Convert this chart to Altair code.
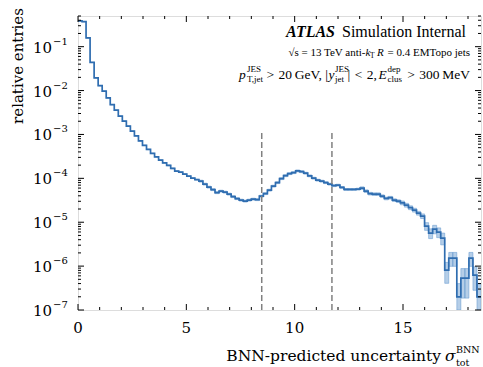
import altair as alt
import pandas as pd
import numpy as np

# ---------------- data ----------------
X_MAX = 18.6
N_BINS = 100
bin_values = [
    0.387, 0.371, 0.158, 0.0437, 0.0195, 0.0129, 0.00969, 0.00678, 0.00477, 0.00358,
    0.00261, 0.00201, 0.00155, 0.00119, 0.000929, 0.000714, 0.000565, 0.000455, 0.000369, 0.000309,
    0.000260, 0.000225, 0.000197, 0.000168, 0.000146, 0.000138, 0.000125, 0.000112, 0.000101, 9.33e-5,
    8.63e-5, 7.38e-5, 6.31e-5, 5.53e-5, 4.72e-5, 5.11e-5, 4.85e-5, 4.37e-5, 3.83e-5, 3.45e-5,
    3.19e-5, 3.03e-5, 3.19e-5, 3.36e-5, 3.27e-5, 3.93e-5, 4.48e-5, 5.38e-5, 6.64e-5, 7.98e-5,
    9.84e-5, 1.15e-4, 1.28e-4, 1.35e-4, 1.48e-4, 1.42e-4, 1.31e-4, 1.14e-4, 1.01e-4, 9.10e-5,
    8.63e-5, 7.98e-5, 7.38e-5, 6.82e-5, 7.00e-5, 6.21e-5, 5.58e-5, 5.58e-5, 5.58e-5, 5.68e-5,
    5.98e-5, 5.11e-5, 4.48e-5, 4.37e-5, 4.37e-5, 3.93e-5, 3.48e-5, 3.63e-5, 3.19e-5, 3.03e-5,
    2.77e-5, 2.45e-5, 2.15e-5, 1.89e-5, 1.61e-5, 1.38e-5, 8.15e-6, 5.65e-6, 6.97e-6, 5.94e-6,
    4.35e-6, 8.11e-7, 1.52e-6, 1.52e-6, 2.0e-7, 5.33e-7, 5.33e-7, 1.52e-6, 6.24e-7, 2.0e-7,
]
rel_err = [
    0.005, 0.005, 0.005, 0.005, 0.005, 0.005, 0.005, 0.005, 0.005, 0.005,
    0.01, 0.01, 0.01, 0.01, 0.01, 0.01, 0.01, 0.01, 0.01, 0.01,
    0.02, 0.02, 0.02, 0.02, 0.02, 0.02, 0.02, 0.02, 0.02, 0.02,
    0.05, 0.05, 0.05, 0.05, 0.05, 0.05, 0.05, 0.05, 0.05, 0.05,
    0.05, 0.05, 0.05, 0.05, 0.05, 0.05, 0.05, 0.05, 0.05, 0.05,
    0.05, 0.05, 0.05, 0.05, 0.05, 0.05, 0.05, 0.05, 0.05, 0.05,
    0.05, 0.05, 0.05, 0.05, 0.05, 0.05, 0.05, 0.05, 0.05, 0.05,
    0.07, 0.07, 0.07, 0.07, 0.07, 0.07, 0.07, 0.07, 0.07, 0.07,
    0.1, 0.1, 0.1, 0.1, 0.1, 0.12, 0.2, 0.25, 0.22, 0.25,
    0.3, 0.5, 0.35, 0.35, 1.0, 0.65, 0.65, 0.35, 0.55, 1.0,
]
dashed_x = [8.48, 11.72]
dashed_top = 1.2e-3
x_major = [0, 5, 10, 15]
x_minor = [1, 2, 3, 4, 6, 7, 8, 9, 11, 12, 13, 14, 16, 17, 18]
y_exponents = [-7, -6, -5, -4, -3, -2, -1]
y_minor_mult = [2, 3, 4, 5, 6, 7, 8, 9]
Y_MIN, Y_MAX = 1e-7, 0.5

# ---------------- style ----------------
W, H = 403, 294
SERIF = "DejaVu Serif"
TXT = "Liberation Serif"
LINE = "#2f6db0"
BAND = "#5b93cc"

edges = np.linspace(0, X_MAX, N_BINS + 1)
vals = np.array(bin_values)
errs = np.array(rel_err)
band_df = pd.DataFrame({
    "x0": edges[:-1], "x1": edges[1:],
    "lo": np.maximum(vals * (1 - errs), Y_MIN),
    "hi": vals * (1 + errs),
})
line_df = pd.DataFrame({"x": list(edges[:-1]) + [edges[-1]],
                        "y": list(vals) + [vals[-1]]})

xs = alt.Scale(domain=[0, X_MAX], nice=False, zero=False)
ys = alt.Scale(type="log", domain=[Y_MIN, Y_MAX], nice=False)

def X(f):
    return alt.X(f, type="quantitative", scale=xs, axis=None)

def Y(f):
    return alt.Y(f, type="quantitative", scale=ys, axis=None)

band = alt.Chart(band_df).mark_rect(
    fill=BAND, fillOpacity=0.45, stroke=BAND, strokeOpacity=0.7, strokeWidth=0.7, clip=True
).encode(x=X("x0"), x2="x1", y=Y("lo"), y2="hi")

hist = alt.Chart(line_df).mark_line(
    interpolate="step-after", color=LINE, strokeWidth=1.7, clip=True
).encode(x=X("x"), y=Y("y"))

dash_df = pd.DataFrame({"x": dashed_x, "y0": [Y_MIN] * len(dashed_x), "y1": [dashed_top] * len(dashed_x)})
dashes = alt.Chart(dash_df).mark_rule(
    color="#808080", strokeWidth=1.5, strokeDash=[6, 3]
).encode(x=X("x"), y=Y("y0"), y2="y1")

# ticks (inward, on all four sides)
def xticks(vals_, length):
    d = pd.DataFrame({"x": vals_})
    b = alt.Chart(d).mark_rule(color="black", strokeWidth=1).encode(
        x=X("x"), y=alt.value(H), y2=alt.value(H - length))
    t = alt.Chart(d).mark_rule(color="black", strokeWidth=1).encode(
        x=X("x"), y=alt.value(0), y2=alt.value(length))
    return b + t

def yticks(vals_, length):
    d = pd.DataFrame({"y": vals_})
    l = alt.Chart(d).mark_rule(color="black", strokeWidth=1).encode(
        y=Y("y"), x=alt.value(0), x2=alt.value(length))
    r = alt.Chart(d).mark_rule(color="black", strokeWidth=1).encode(
        y=Y("y"), x=alt.value(W), x2=alt.value(W - length))
    return l + r

y_major_vals = [10.0 ** e for e in y_exponents]
y_minor_vals = [m * 10.0 ** e for e in y_exponents for m in y_minor_mult if m * 10.0 ** e <= Y_MAX]

ticks = xticks(x_major, 6) + xticks(x_minor, 3) + yticks(y_major_vals, 6) + yticks(y_minor_vals, 3)

# tick labels
xl_df = pd.DataFrame({"x": x_major, "t": [str(v) for v in x_major]})
xlabels = alt.Chart(xl_df).mark_text(font=SERIF, fontSize=15, color="black", baseline="middle").encode(
    x=X("x"), y=alt.value(H + 18), text="t:N")

yl_df = pd.DataFrame({"y": y_major_vals, "b": ["10"] * len(y_exponents),
                      "s": ["\u2212" + str(-e) for e in y_exponents]})
ylab_base = alt.Chart(yl_df).mark_text(font=SERIF, fontSize=15, color="black", align="right",
                                       baseline="middle", dy=1).encode(
    y=Y("y"), x=alt.value(-26), text="b:N")
ylab_sup = alt.Chart(yl_df).mark_text(font=SERIF, fontSize=10, color="black", align="left",
                                      baseline="middle", dy=-5).encode(
    y=Y("y"), x=alt.value(-25), text="s:N")

def txt(s, x, y, size=11, align="left", font=TXT, italic=False, bold=False, angle=None):
    kw = dict(font=font, fontSize=size, align=align, baseline="middle", color="black")
    if italic:
        kw["fontStyle"] = "italic"
    if bold:
        kw["fontWeight"] = "bold"
    if angle is not None:
        kw["angle"] = angle
    return alt.Chart(pd.DataFrame({"t": [s]})).mark_text(**kw).encode(
        x=alt.value(x), y=alt.value(y), text="t:N")

SP = "\u2004"  # medium (math) space
L3 = 13.5
S3 = 9
texts = [
    # axis titles
    txt("relative entries", -60, 50, size=15, align="center", font=SERIF, angle=270),
    txt("BNN-predicted uncertainty", 363, 340, size=15.5, align="right", font=SERIF),
    txt("\u03c3", 367, 340, size=15.5, align="left", font=SERIF, italic=True),
    txt("BNN", 378, 334, size=9.5, font=SERIF),
    txt("tot", 378, 347, size=9.5, font=SERIF),
    # ATLAS label
    txt("ATLAS", 257, 16, size=16, align="right", italic=True, bold=True),
    txt("Simulation Internal", 388, 16, size=16, align="right"),
    # line 2
    txt("\u221as = 13 TeV anti-", 287.5, 37, size=11, align="right"),
    txt("k", 287.5, 37, size=11, italic=True),
    txt("T", 292, 40, size=7.5),
    txt("R", 299, 37, size=11, italic=True),
    txt("= 0.4 EMTopo jets", 392, 37, size=11, align="right"),
    # line 3
    txt("p", 161, 59, size=L3, italic=True),
    txt("JES", 169, 53, size=S3),
    txt("T,jet", 169, 63, size=S3),
    txt(">" + SP + "20\u2009GeV, |", 250, 59, size=L3, align="right"),
    txt("y", 250.5, 59, size=L3, italic=True),
    txt("JES", 257, 53, size=S3),
    txt("jet", 257, 63, size=S3),
    txt("|" + SP + "<" + SP + "2,", 299, 59, size=L3, align="right"),
    txt("E", 300.5, 59, size=L3, italic=True),
    txt("dep", 309.5, 53, size=S3),
    txt("clus", 309.5, 63, size=S3),
    txt(">" + SP + "300\u2009MeV", 392, 59, size=L3, align="right"),
]

chart = alt.layer(band, hist, dashes, ticks, xlabels, ylab_base, ylab_sup, *texts).properties(
    width=W, height=H,
    padding={"left": 78, "top": 16, "right": 2, "bottom": 57},
    autosize=alt.AutoSizeParams(type="none"),
).configure_view(stroke="black", strokeWidth=1.3).configure(background="white")

chart.save("out.html", embed_options={"renderer": "svg", "actions": False})
